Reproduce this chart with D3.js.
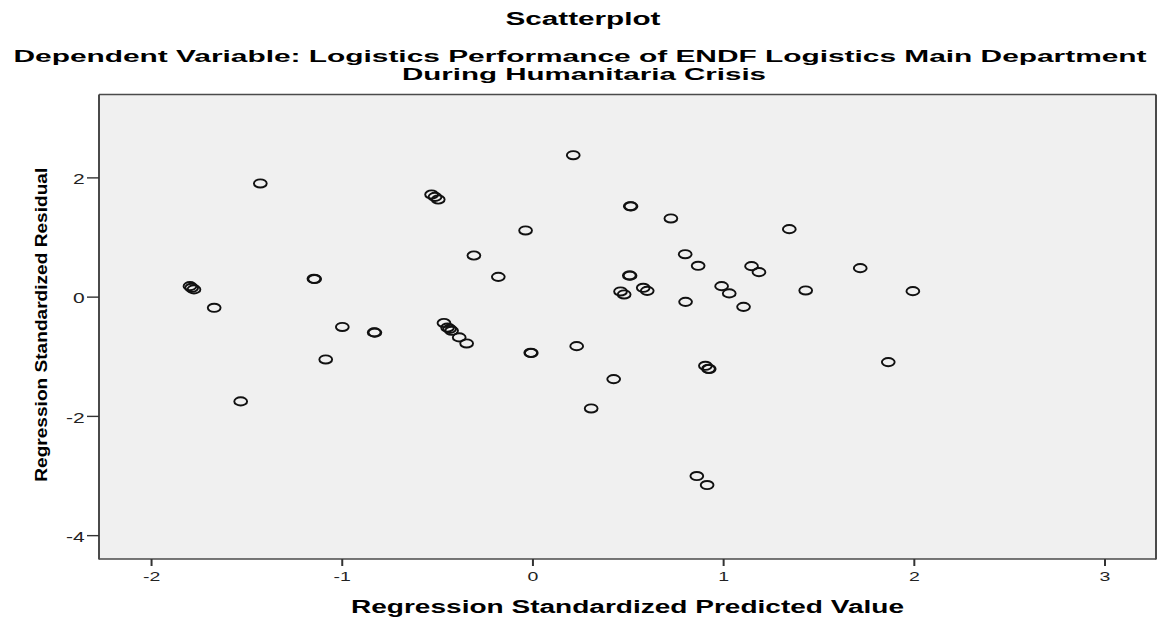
<!DOCTYPE html>
<html>
<head>
<meta charset="utf-8">
<script src="https://cdn.jsdelivr.net/npm/d3@7/dist/d3.min.js"></script>
<style>
  html, body { margin: 0; padding: 0; background: #ffffff; }
  svg { display: block; }
  text { font-family: "Liberation Sans", Arial, sans-serif; }
</style>
</head>
<body>
<svg id="chart" width="1161" height="622"></svg>
<script>
// Regression Standardized Predicted Value (x) and Standardized Residual (y) per case
const predicted = [
  -1.427, -0.529, -0.511, -0.494, -0.307, -1.796, -1.787, -1.775, -1.146, -1.142,
  -1.669, -0.997, -0.830, -0.826, -0.464, -0.445, -0.434, -0.424, -0.384, -0.345,
  -1.084, -1.530, -0.009, -0.006, 0.232, 0.308, 0.214, 0.513, 0.517, 0.726,
  1.347, -0.036, -0.179, 0.801, 0.869, 0.508, 0.512, 0.462, 0.481, 0.581,
  0.602, 0.992, 1.032, 1.149, 1.188, 0.803, 1.107, 1.433, 1.719, 1.995,
  0.426, 0.907, 0.923, 0.927, 1.866, 0.862, 0.916
];
const residual = [
  1.898, 1.713, 1.673, 1.629, 0.690, 0.176, 0.148, 0.121, 0.299, 0.295,
  -0.187, -0.508, -0.600, -0.603, -0.442, -0.518, -0.540, -0.573, -0.684, -0.785,
  -1.053, -1.757, -0.942, -0.945, -0.830, -1.875, 2.372, 1.517, 1.514, 1.311,
  1.132, 1.110, 0.332, 0.712, 0.517, 0.355, 0.352, 0.087, 0.037, 0.148,
  0.097, 0.176, 0.054, 0.511, 0.411, -0.087, -0.171, 0.104, 0.478, 0.092,
  -1.383, -1.160, -1.210, -1.213, -1.098, -3.009, -3.160
];
const xTicks = [-2, -1, 0, 1, 2, 3];
const yTicks = [-4, -2, 0, 2];
const xDomain = [-2.273, 3.27];
const yDomain = [-4.40, 3.39];

const titleText = "Scatterplot";
const subtitleLines = [
  "Dependent Variable: Logistics Performance of ENDF Logistics Main Department",
  "During Humanitaria Crisis"
];
const xTitle = "Regression Standardized Predicted Value";
const yTitle = "Regression Standardized Residual";

const svg = d3.select("#chart");
const plot = { left: 99, right: 1156, top: 94.5, bottom: 559 };
const stretch = 1.5; // horizontal glyph widening used for tick text

const x = d3.scaleLinear().domain(xDomain).range([plot.left, plot.right]);
const y = d3.scaleLinear().domain(yDomain).range([plot.bottom, plot.top]);

// plot background
svg.append("rect")
  .attr("x", plot.left).attr("y", plot.top)
  .attr("width", plot.right - plot.left).attr("height", plot.bottom - plot.top)
  .attr("fill", "#f0f0f0");

// points
svg.append("g").selectAll("ellipse")
  .data(predicted.map((p, i) => [p, residual[i]]))
  .join("ellipse")
  .attr("cx", d => x(d[0]))
  .attr("cy", d => y(d[1]))
  .attr("rx", 6.4)
  .attr("ry", 4.1)
  .attr("fill", "none")
  .attr("stroke", "#111")
  .attr("stroke-width", 1.9);

// frame
const frame = svg.append("g").attr("stroke", "#4a4a4a");
frame.append("line").attr("x1", plot.left).attr("x2", plot.left)
  .attr("y1", plot.top).attr("y2", plot.bottom + 0.6).attr("stroke-width", 2);
frame.append("line").attr("x1", plot.right).attr("x2", plot.right)
  .attr("y1", plot.top).attr("y2", plot.bottom + 0.6).attr("stroke-width", 2);
frame.append("line").attr("x1", plot.left).attr("x2", plot.right)
  .attr("y1", plot.top).attr("y2", plot.top).attr("stroke-width", 1.3);
frame.append("line").attr("x1", plot.left).attr("x2", plot.right)
  .attr("y1", plot.bottom).attr("y2", plot.bottom).attr("stroke-width", 1.3);

// x axis
const gx = svg.append("g")
  .attr("transform", `translate(0,${plot.bottom})`)
  .call(d3.axisBottom(x).tickValues(xTicks).tickSize(7).tickPadding(6).tickFormat(d3.format("d")));
gx.select(".domain").remove();
gx.selectAll(".tick line").attr("stroke", "#333").attr("stroke-width", 2);
gx.selectAll(".tick text")
  .attr("fill", "#222")
  .style("font-size", "13px")
  .attr("transform", `scale(${stretch},1)`)
  .text(d => d < 0 ? "-" + Math.abs(d) : d);

// y axis
const gy = svg.append("g")
  .attr("transform", `translate(${plot.left},0)`)
  .call(d3.axisLeft(y).tickValues(yTicks).tickSize(12).tickPadding(0).tickFormat(d3.format("d")));
gy.select(".domain").remove();
gy.selectAll(".tick line").attr("stroke", "#333").attr("stroke-width", 1.4);
gy.selectAll(".tick text")
  .attr("fill", "#222")
  .attr("x", -9.5)
  .attr("dy", "0.45em")
  .style("font-size", "14px")
  .attr("transform", `scale(${stretch},1)`)
  .text(d => d < 0 ? "-" + Math.abs(d) : d);

// titles
svg.append("text")
  .attr("x", 583).attr("y", 25)
  .attr("text-anchor", "middle")
  .attr("font-weight", "bold").attr("font-size", 18)
  .attr("textLength", 155).attr("lengthAdjust", "spacingAndGlyphs")
  .text(titleText);

const subtitleWidths = [1133, 364];
const subtitleCenters = [580, 584];
subtitleLines.forEach((line, i) => {
  svg.append("text")
    .attr("x", subtitleCenters[i]).attr("y", 62 + i * 18)
    .attr("text-anchor", "middle")
    .attr("font-weight", "bold").attr("font-size", 16)
    .attr("textLength", subtitleWidths[i]).attr("lengthAdjust", "spacingAndGlyphs")
    .text(line);
});

svg.append("text")
  .attr("x", (plot.left + plot.right) / 2).attr("y", 613)
  .attr("text-anchor", "middle")
  .attr("font-weight", "bold").attr("font-size", 18)
  .attr("textLength", 553).attr("lengthAdjust", "spacingAndGlyphs")
  .text(xTitle);

svg.append("text")
  .attr("transform", `translate(47,${(plot.top + plot.bottom) / 2 - 2}) rotate(-90)`)
  .attr("text-anchor", "middle")
  .attr("font-weight", "bold").attr("font-size", 17)
  .attr("textLength", 314).attr("lengthAdjust", "spacingAndGlyphs")
  .text(yTitle);
</script>
</body>
</html>
